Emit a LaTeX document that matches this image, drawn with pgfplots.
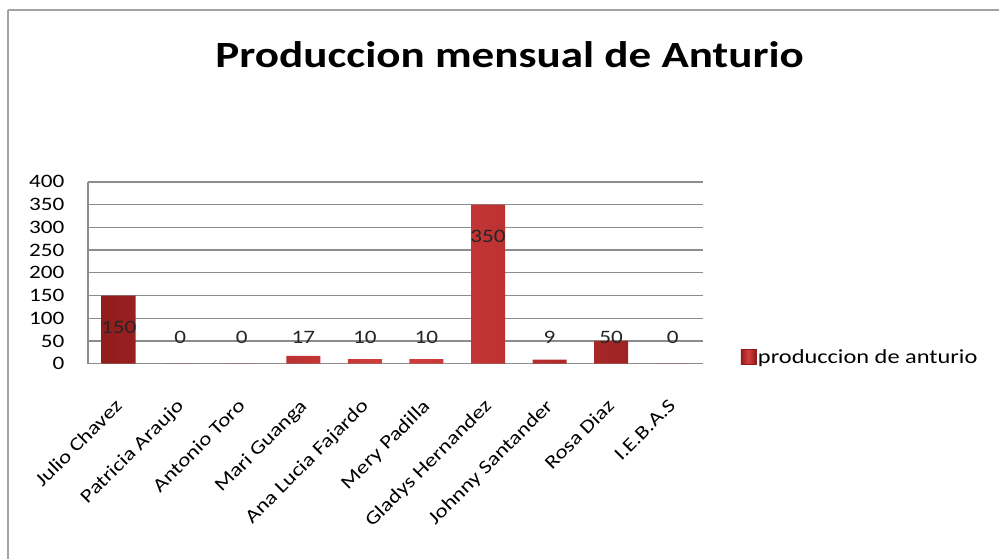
\documentclass[border=0pt]{standalone}
\usepackage{pgfplots}
\pgfplotsset{compat=1.18}
\usepackage{fontspec}
\setmainfont[FakeStretch=1.22]{Carlito}
\definecolor{barmid}{RGB}{212,62,62}
\definecolor{baredge}{RGB}{145,28,28}
\definecolor{gridc}{RGB}{140,140,140}
\begin{document}
\begin{tikzpicture}[x=1pt,y=1pt]
\path (0,0) rectangle (1000,559);
\draw[gridc!80, line width=1.5pt] (8,549) -- (1000,549);
\draw[gridc!80, line width=1.5pt] (8,549) -- (8,0);
\node[anchor=base, font=\fontsize{37}{40}\selectfont\bfseries] at (510,491) {Produccion mensual de Anturio};
\begin{axis}[
  at={(88pt,195pt)}, anchor=south west,
  scale only axis, width=616pt, height=182pt,
  xmin=-0.5, xmax=9.5, ymin=0, ymax=400,
  ytick={0,50,...,400},
  xtick={0,...,9},
  xticklabels={Julio Chavez, Patricia Araujo, Antonio Toro, Mari Guanga, Ana Lucia Fajardo, Mery Padilla, Gladys Hernandez, Johnny Santander, Rosa Diaz, I.E.B.A.S},
  xticklabel style={xshift=-5pt, yshift=-34pt, rotate=45, anchor=north east, font=\fontsize{19}{22}\selectfont, inner sep=0pt},
  yticklabel style={font=\fontsize{19}{22}\selectfont, xshift=-20pt},
  /pgf/number format/assume math mode=true,
  ymajorgrids, major grid style={gridc, line width=1.3pt},
  axis lines*=left,
  x axis line style={draw=none},
  y axis line style={gridc, line width=1.3pt, -},
  major tick length=0pt,
  clip=false,
  legend style={at={(1.06,0.038)}, anchor=west, draw=none, fill=none, font=\fontsize{20}{22}\selectfont, inner sep=0pt},
  legend cell align=left,
  legend image code/.code={\draw[draw=baredge, fill=barmid] (0pt,-7.5pt) rectangle (15pt,7.5pt);},
]
\addplot[ybar, bar width=34pt, draw=none, left color=baredge, right color=baredge, middle color=barmid] coordinates {
(0,150) (1,0) (2,0) (3,17) (4,10) (5,10) (6,350) (7,9) (8,50) (9,0)};
\addlegendentry{produccion de anturio}
\addplot[forget plot, draw=none, mark=none, nodes near coords, point meta=explicit symbolic,
  every node near coord/.style={anchor=center, font=\fontsize{19}{22}\selectfont, text=black!85}] coordinates {
(0,79) [150] (1,57) [0] (2,57) [0] (3,57) [17] (4,57) [10] (5,57) [10] (6,279) [350] (7,57) [9] (8,57) [50] (9,57) [0]};
\end{axis}
\end{tikzpicture}
\end{document}
